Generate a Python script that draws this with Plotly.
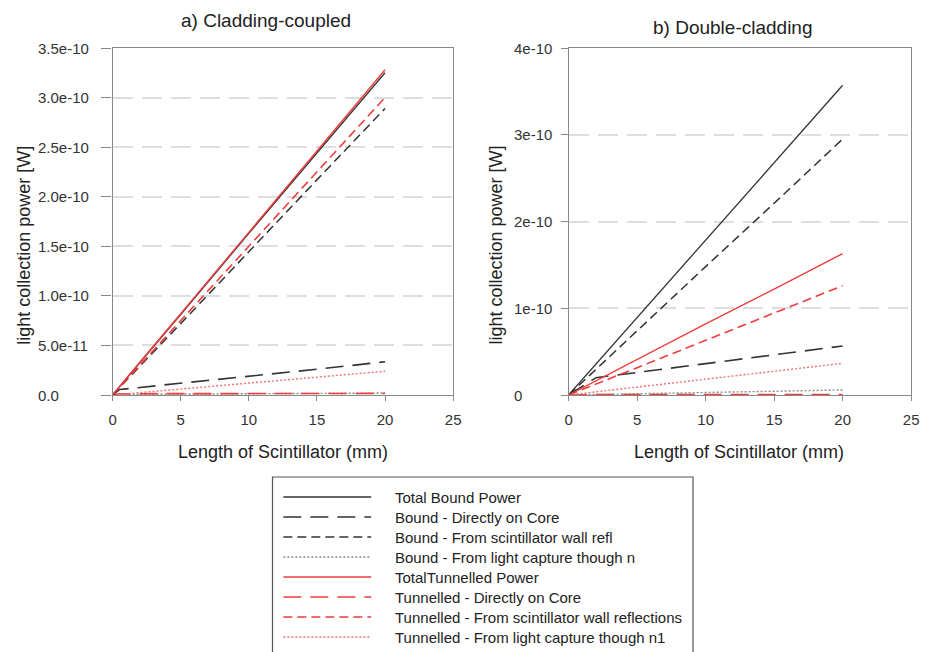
import plotly.graph_objects as go

# Scintillator length (mm) at which each series is sampled
LENGTH = [0, 0.5, 1, 2, 5, 10, 15, 20]

# Power values in units of 1e-10 W
SCALE = 1e-10

# a) Cladding-coupled
A_TOTAL_BOUND = [0, 0.08, 0.16, 0.33, 0.81, 1.63, 2.44, 3.25]
A_BOUND_DIRECT = [0, 0.055, 0.062, 0.076, 0.118, 0.188, 0.26, 0.335]
A_BOUND_WALL = [0, 0.07, 0.14, 0.29, 0.72, 1.45, 2.17, 2.89]
A_BOUND_CAPTURE = [0, 0.005, 0.006, 0.007, 0.010, 0.013, 0.017, 0.020]
A_TOTAL_TUNNEL = [0, 0.08, 0.16, 0.33, 0.82, 1.64, 2.46, 3.28]
A_TUNNEL_DIRECT = [0, 0.012, 0.013, 0.013, 0.014, 0.015, 0.016, 0.016]
A_TUNNEL_WALL = [0, 0.075, 0.15, 0.30, 0.75, 1.50, 2.25, 3.00]
A_TUNNEL_CAPTURE = [0, 0.006, 0.012, 0.024, 0.06, 0.12, 0.18, 0.24]

# b) Double-cladding
B_TOTAL_BOUND = [0, 0.089, 0.18, 0.36, 0.89, 1.78, 2.68, 3.57]
B_BOUND_DIRECT = [0, 0.05, 0.10, 0.20, 0.26, 0.36, 0.46, 0.565]
B_BOUND_WALL = [0, 0.074, 0.15, 0.295, 0.74, 1.48, 2.21, 2.95]
B_BOUND_CAPTURE = [0, 0.0015, 0.003, 0.006, 0.015, 0.029, 0.044, 0.058]
B_TOTAL_TUNNEL = [0, 0.041, 0.082, 0.163, 0.41, 0.82, 1.22, 1.63]
B_TUNNEL_DIRECT = [0, 0.003, 0.004, 0.004, 0.005, 0.005, 0.006, 0.006]
B_TUNNEL_WALL = [0, 0.032, 0.063, 0.126, 0.315, 0.63, 0.945, 1.26]
B_TUNNEL_CAPTURE = [0, 0.009, 0.018, 0.037, 0.09, 0.18, 0.27, 0.365]

SERIES_NAMES = [
    "Total Bound Power",
    "Bound - Directly on Core",
    "Bound - From scintillator wall refl",
    "Bound - From light capture though n",
    "TotalTunnelled Power",
    "Tunnelled - Directly on Core",
    "Tunnelled - From scintillator wall reflections",
    "Tunnelled - From light capture though n1",
]

PANEL_TITLES = ["a) Cladding-coupled", "b) Double-cladding"]
X_TITLE = "Length of Scintillator (mm)"
Y_TITLE = "light collection power [W]"

X_TICKS = [0, 5, 10, 15, 20, 25]
A_Y_TICKS = [0, 0.5, 1.0, 1.5, 2.0, 2.5, 3.0, 3.5]
A_Y_LABELS = ["0.0", "5.0e-11", "1.0e-10", "1.5e-10", "2.0e-10", "2.5e-10", "3.0e-10", "3.5e-10"]
B_Y_TICKS = [0, 1, 2, 3, 4]
B_Y_LABELS = ["0", "1e-10", "2e-10", "3e-10", "4e-10"]

BLACK = "#333333"
GREY = "#8a8a8a"
RED = "#f03c3c"
LIGHT_RED = "#f47070"

# colour, dash, width for each series
STYLES = [
    (BLACK, "solid", 1.3),
    (BLACK, "18px,9px", 1.6),
    (BLACK, "9px,5px", 1.5),
    (GREY, "2px,2px", 1.4),
    (RED, "solid", 1.4),
    (RED, "18px,9px", 1.6),
    (RED, "9px,5px", 1.6),
    (LIGHT_RED, "2px,2px", 1.4),
]

FONT = "Liberation Sans, Arial, sans-serif"
W, H = 930, 652


def px(x):
    return x / W


def py(y):
    return 1 - y / H


panel_a = [A_TOTAL_BOUND, A_BOUND_DIRECT, A_BOUND_WALL, A_BOUND_CAPTURE,
           A_TOTAL_TUNNEL, A_TUNNEL_DIRECT, A_TUNNEL_WALL, A_TUNNEL_CAPTURE]
panel_b = [B_TOTAL_BOUND, B_BOUND_DIRECT, B_BOUND_WALL, B_BOUND_CAPTURE,
           B_TOTAL_TUNNEL, B_TUNNEL_DIRECT, B_TUNNEL_WALL, B_TUNNEL_CAPTURE]

fig = go.Figure()

# draw order: near-zero curves first, totals last
order = [3, 5, 7, 1, 2, 6, 0, 4]
for axis_suffix, panel in (("", panel_a), ("2", panel_b)):
    for i in order:
        color, dash, width = STYLES[i]
        fig.add_trace(go.Scatter(
            x=LENGTH,
            y=[v * SCALE for v in panel[i]],
            mode="lines",
            name=SERIES_NAMES[i],
            line=dict(color=color, dash=dash, width=width),
            xaxis="x" + axis_suffix,
            yaxis="y" + axis_suffix,
            showlegend=False,
        ))

common_x = dict(
    range=[0, 25], tickvals=X_TICKS, ticks="outside", ticklen=5, tickcolor="#888888",
    ticklabelstandoff=6,
    showline=True, linecolor="#888888", linewidth=1.2, mirror=True,
    showgrid=False, zeroline=False,
    tickfont=dict(family=FONT, size=15, color="#333333"),
)
# y tick labels are left-aligned text placed separately below
common_y = dict(
    ticks="outside", tickcolor="#888888", showticklabels=False,
    showline=True, linecolor="#888888", linewidth=1.2, mirror=True,
    showgrid=True, gridcolor="#dedede", gridwidth=1.5, griddash="20px,9px",
    zeroline=False,
)

y_dom = [py(395), py(48)]

fig.update_layout(
    width=W, height=H,
    margin=dict(l=0, r=0, t=0, b=0),
    paper_bgcolor="white", plot_bgcolor="white",
    showlegend=False,
    xaxis=dict(domain=[px(110), px(455)], anchor="y", **common_x),
    yaxis=dict(domain=y_dom, anchor="x", range=[0, 3.5 * SCALE], ticklen=10,
               tickvals=[v * SCALE for v in A_Y_TICKS], **common_y),
    xaxis2=dict(domain=[px(572), px(919)], anchor="y2", **common_x),
    yaxis2=dict(domain=y_dom, anchor="x2", range=[0, 4 * SCALE], ticklen=7,
                tickvals=[v * SCALE for v in B_Y_TICKS], **common_y),
)

annotations = []
# y tick labels, left-aligned in a column beside each axis
for yref, left, ticks, labels in (("y", 32, A_Y_TICKS, A_Y_LABELS),
                                  ("y2", 515, B_Y_TICKS, B_Y_LABELS)):
    for v, lab in zip(ticks, labels):
        annotations.append(dict(text=lab, x=px(left), y=v * SCALE, xref="paper", yref=yref,
                                showarrow=False, xanchor="left", yanchor="middle",
                                font=dict(family=FONT, size=15, color="#333333")))
# panel titles
for title, cx, cy in ((PANEL_TITLES[0], 265, 20), (PANEL_TITLES[1], 739, 28)):
    annotations.append(dict(text=title, x=px(cx), y=py(cy), xref="paper", yref="paper",
                            showarrow=False, xanchor="center", yanchor="middle",
                            font=dict(family=FONT, size=19, color="#222222")))
# axis titles
for cx in (283, 745):
    annotations.append(dict(text=X_TITLE, x=px(cx), y=py(452), xref="paper", yref="paper",
                            showarrow=False, xanchor="center", yanchor="middle",
                            font=dict(family=FONT, size=18, color="#222222")))
for cx in (20, 498):
    annotations.append(dict(text=Y_TITLE, x=px(cx), y=py(245), xref="paper", yref="paper",
                            showarrow=False, xanchor="center", yanchor="middle", textangle=-90,
                            font=dict(family=FONT, size=18, color="#222222")))

# legend box with line samples
shapes = [dict(type="rect", xref="paper", yref="paper",
               x0=px(272), x1=px(698), y0=py(664), y1=py(477),
               line=dict(color="#555555", width=1.2), fillcolor="rgba(0,0,0,0)")]
for k, name in enumerate(SERIES_NAMES):
    color, dash, width = STYLES[k]
    yy = 497 + 20 * k
    shapes.append(dict(type="line", xref="paper", yref="paper",
                       x0=px(283), x1=px(372), y0=py(yy), y1=py(yy),
                       line=dict(color=color, dash=dash, width=width)))
    annotations.append(dict(text=name, x=px(394), y=py(yy), xref="paper", yref="paper",
                            showarrow=False, xanchor="left", yanchor="middle",
                            font=dict(family=FONT, size=15, color="#222222")))

fig.update_layout(annotations=annotations, shapes=shapes)

fig.write_html("out.html")
